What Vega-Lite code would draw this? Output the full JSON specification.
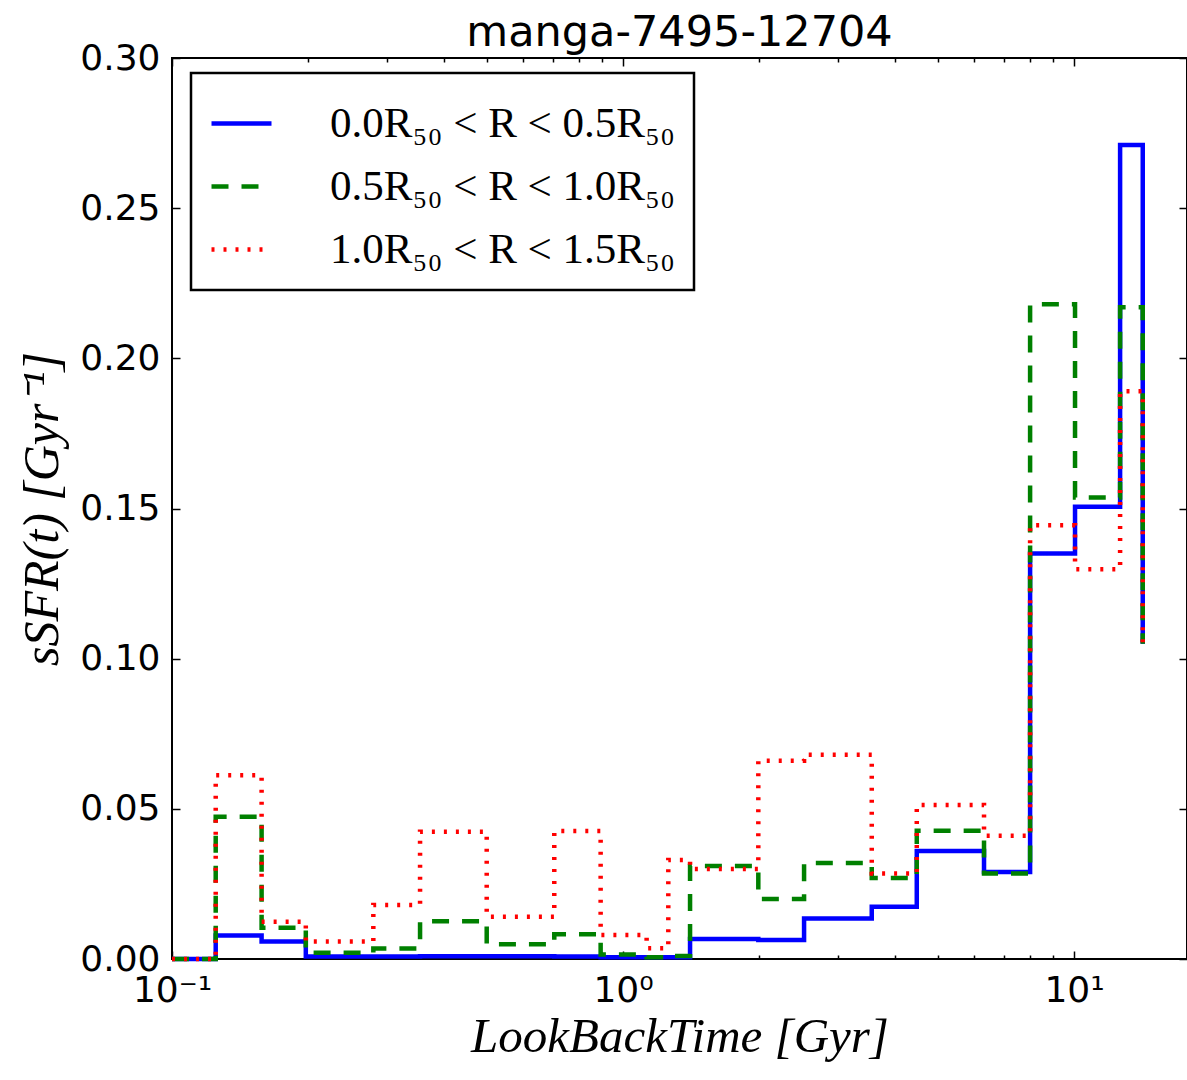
{
  "$schema": "https://vega.github.io/schema/vega-lite/v6.json",
  "width": 1015,
  "height": 901,
  "autosize": {"type": "none"},
  "padding": {"left": 172, "top": 58, "right": 0, "bottom": 121},
  "background": "white",
  "title": {"text": "manga-7495-12704", "font": "DejaVu Sans", "fontSize": 43, "fontWeight": "normal", "color": "black", "offset": -15, "anchor": "middle"},
  "config": {
    "view": {"stroke": "black", "strokeWidth": 2},
    "axis": {"grid": false, "domain": false, "tickColor": "black", "tickWidth": 1.5, "labelColor": "black", "labelOverlap": false, "labelFlush": false, "labelBound": false}
  },
  "datasets": {
    "sfh": [
      {"region": "0.0R₅₀ < R < 0.5R₅₀", "t": 0.1, "v": 0},
      {"region": "0.0R₅₀ < R < 0.5R₅₀", "t": 0.125, "v": 0.0078},
      {"region": "0.0R₅₀ < R < 0.5R₅₀", "t": 0.158, "v": 0.0058},
      {"region": "0.0R₅₀ < R < 0.5R₅₀", "t": 0.198, "v": 0.0008},
      {"region": "0.0R₅₀ < R < 0.5R₅₀", "t": 0.2795, "v": 0.0008},
      {"region": "0.0R₅₀ < R < 0.5R₅₀", "t": 0.3548, "v": 0.0009},
      {"region": "0.0R₅₀ < R < 0.5R₅₀", "t": 0.4986, "v": 0.0009},
      {"region": "0.0R₅₀ < R < 0.5R₅₀", "t": 0.704, "v": 0.0008},
      {"region": "0.0R₅₀ < R < 0.5R₅₀", "t": 0.892, "v": 0.0006},
      {"region": "0.0R₅₀ < R < 0.5R₅₀", "t": 1.128, "v": 0.0006},
      {"region": "0.0R₅₀ < R < 0.5R₅₀", "t": 1.26, "v": 0.0006},
      {"region": "0.0R₅₀ < R < 0.5R₅₀", "t": 1.408, "v": 0.0067},
      {"region": "0.0R₅₀ < R < 0.5R₅₀", "t": 1.995, "v": 0.0063},
      {"region": "0.0R₅₀ < R < 0.5R₅₀", "t": 2.52, "v": 0.0135},
      {"region": "0.0R₅₀ < R < 0.5R₅₀", "t": 3.56, "v": 0.0174},
      {"region": "0.0R₅₀ < R < 0.5R₅₀", "t": 4.48, "v": 0.036},
      {"region": "0.0R₅₀ < R < 0.5R₅₀", "t": 6.315, "v": 0.029},
      {"region": "0.0R₅₀ < R < 0.5R₅₀", "t": 7.99, "v": 0.135},
      {"region": "0.0R₅₀ < R < 0.5R₅₀", "t": 10.05, "v": 0.1506},
      {"region": "0.0R₅₀ < R < 0.5R₅₀", "t": 12.65, "v": 0.271},
      {"region": "0.0R₅₀ < R < 0.5R₅₀", "t": 14.2, "v": 0.105},
      {"region": "0.5R₅₀ < R < 1.0R₅₀", "t": 0.1, "v": 0},
      {"region": "0.5R₅₀ < R < 1.0R₅₀", "t": 0.125, "v": 0.0474},
      {"region": "0.5R₅₀ < R < 1.0R₅₀", "t": 0.158, "v": 0.0104},
      {"region": "0.5R₅₀ < R < 1.0R₅₀", "t": 0.198, "v": 0.0021},
      {"region": "0.5R₅₀ < R < 1.0R₅₀", "t": 0.2795, "v": 0.0035},
      {"region": "0.5R₅₀ < R < 1.0R₅₀", "t": 0.3548, "v": 0.0126},
      {"region": "0.5R₅₀ < R < 1.0R₅₀", "t": 0.4986, "v": 0.0049},
      {"region": "0.5R₅₀ < R < 1.0R₅₀", "t": 0.704, "v": 0.0082},
      {"region": "0.5R₅₀ < R < 1.0R₅₀", "t": 0.892, "v": 0.0015},
      {"region": "0.5R₅₀ < R < 1.0R₅₀", "t": 1.128, "v": 0.0006},
      {"region": "0.5R₅₀ < R < 1.0R₅₀", "t": 1.26, "v": 0.001},
      {"region": "0.5R₅₀ < R < 1.0R₅₀", "t": 1.408, "v": 0.031},
      {"region": "0.5R₅₀ < R < 1.0R₅₀", "t": 1.995, "v": 0.020},
      {"region": "0.5R₅₀ < R < 1.0R₅₀", "t": 2.52, "v": 0.032},
      {"region": "0.5R₅₀ < R < 1.0R₅₀", "t": 3.56, "v": 0.027},
      {"region": "0.5R₅₀ < R < 1.0R₅₀", "t": 4.48, "v": 0.0427},
      {"region": "0.5R₅₀ < R < 1.0R₅₀", "t": 6.315, "v": 0.0285},
      {"region": "0.5R₅₀ < R < 1.0R₅₀", "t": 7.99, "v": 0.218},
      {"region": "0.5R₅₀ < R < 1.0R₅₀", "t": 10.05, "v": 0.1537},
      {"region": "0.5R₅₀ < R < 1.0R₅₀", "t": 12.65, "v": 0.217},
      {"region": "0.5R₅₀ < R < 1.0R₅₀", "t": 14.2, "v": 0.105},
      {"region": "1.0R₅₀ < R < 1.5R₅₀", "t": 0.1, "v": 0},
      {"region": "1.0R₅₀ < R < 1.5R₅₀", "t": 0.125, "v": 0.0612},
      {"region": "1.0R₅₀ < R < 1.5R₅₀", "t": 0.158, "v": 0.0124},
      {"region": "1.0R₅₀ < R < 1.5R₅₀", "t": 0.198, "v": 0.0058},
      {"region": "1.0R₅₀ < R < 1.5R₅₀", "t": 0.2795, "v": 0.018},
      {"region": "1.0R₅₀ < R < 1.5R₅₀", "t": 0.3548, "v": 0.0424},
      {"region": "1.0R₅₀ < R < 1.5R₅₀", "t": 0.4986, "v": 0.0141},
      {"region": "1.0R₅₀ < R < 1.5R₅₀", "t": 0.704, "v": 0.0426},
      {"region": "1.0R₅₀ < R < 1.5R₅₀", "t": 0.892, "v": 0.008},
      {"region": "1.0R₅₀ < R < 1.5R₅₀", "t": 1.128, "v": 0.0036},
      {"region": "1.0R₅₀ < R < 1.5R₅₀", "t": 1.26, "v": 0.033},
      {"region": "1.0R₅₀ < R < 1.5R₅₀", "t": 1.408, "v": 0.030},
      {"region": "1.0R₅₀ < R < 1.5R₅₀", "t": 1.995, "v": 0.066},
      {"region": "1.0R₅₀ < R < 1.5R₅₀", "t": 2.52, "v": 0.068},
      {"region": "1.0R₅₀ < R < 1.5R₅₀", "t": 3.56, "v": 0.0285},
      {"region": "1.0R₅₀ < R < 1.5R₅₀", "t": 4.48, "v": 0.0513},
      {"region": "1.0R₅₀ < R < 1.5R₅₀", "t": 6.315, "v": 0.041},
      {"region": "1.0R₅₀ < R < 1.5R₅₀", "t": 7.99, "v": 0.1444},
      {"region": "1.0R₅₀ < R < 1.5R₅₀", "t": 10.05, "v": 0.1298},
      {"region": "1.0R₅₀ < R < 1.5R₅₀", "t": 12.65, "v": 0.189},
      {"region": "1.0R₅₀ < R < 1.5R₅₀", "t": 14.2, "v": 0.105}
    ]
  },
  "data": {"name": "sfh"},
  "layer": [
    {
      "mark": {"type": "line", "interpolate": "step-after", "opacity": 0},
      "encoding": {
        "x": {"field": "t", "type": "quantitative", "scale": {"type": "log", "domain": [0.1, 17.8], "nice": false},
          "axis": {"orient": "bottom", "values": [0.2, 0.3, 0.4, 0.5, 0.6, 0.7, 0.8, 0.9, 2, 3, 4, 5, 6, 7, 8, 9], "labels": false, "tickSize": -4, "title": null}},
        "y": {"field": "v", "type": "quantitative", "scale": {"domain": [0, 0.3], "nice": false},
          "axis": {"orient": "right", "values": [0, 0.05, 0.1, 0.15, 0.2, 0.25, 0.3], "labels": false, "tickSize": -8, "title": null}}
      }
    },
    {
      "mark": {"type": "line", "interpolate": "step-after", "opacity": 0},
      "encoding": {
        "x": {"field": "t", "type": "quantitative",
          "axis": {"orient": "top", "values": [0.2, 0.3, 0.4, 0.5, 0.6, 0.7, 0.8, 0.9, 2, 3, 4, 5, 6, 7, 8, 9], "labels": false, "tickSize": -4, "title": null}},
        "y": {"field": "v", "type": "quantitative", "axis": null}
      }
    },
    {
      "mark": {"type": "line", "interpolate": "step-after", "opacity": 0},
      "encoding": {
        "x": {"field": "t", "type": "quantitative",
          "axis": {"orient": "top", "values": [0.1, 1, 10], "labels": false, "tickSize": -8, "title": null}},
        "y": {"field": "v", "type": "quantitative", "axis": null}
      }
    },
    {
      "mark": {"type": "line", "interpolate": "step-after"},
      "encoding": {
        "x": {"field": "t", "type": "quantitative",
          "axis": {"orient": "bottom", "values": [0.1, 1, 10], "labelExpr": "datum.value < 0.5 ? '10⁻¹' : datum.value < 5 ? '10⁰' : '10¹'", "labelFont": "DejaVu Sans", "labelFontSize": 36, "labelPadding": 22, "tickSize": -8,
            "title": "LookBackTime [Gyr]", "titleFont": "Liberation Serif", "titleFontStyle": "italic", "titleFontWeight": "normal", "titleFontSize": 49, "titleColor": "black", "titlePadding": 4}},
        "y": {"field": "v", "type": "quantitative",
          "axis": {"orient": "left", "values": [0, 0.05, 0.1, 0.15, 0.2, 0.25, 0.3], "format": ".2f", "labelFont": "DejaVu Sans", "labelFontSize": 36, "labelPadding": 20, "tickSize": -8,
            "title": "sSFR(t) [Gyr⁻¹]", "titleFont": "Liberation Serif", "titleFontStyle": "italic", "titleFontWeight": "normal", "titleFontSize": 50, "titleColor": "black", "titlePadding": 12}},
        "color": {"field": "region", "type": "nominal",
          "scale": {"domain": ["0.0R₅₀ < R < 0.5R₅₀", "0.5R₅₀ < R < 1.0R₅₀", "1.0R₅₀ < R < 1.5R₅₀"], "range": ["#0000ff", "#008000", "#ff0000"]},
          "legend": {"orient": "none", "legendX": 19, "legendY": 15, "title": null, "strokeColor": "black", "fillColor": "white", "padding": 18, "symbolType": "stroke", "symbolSize": 3600, "symbolStrokeWidth": 4, "labelFont": "Liberation Serif", "labelFontSize": 43, "labelColor": "black", "labelOffset": 56, "rowPadding": 8, "labelLimit": 0,
            "encode": {"legend": {"update": {"strokeWidth": {"value": 2.5}}}}}},
        "strokeDash": {"field": "region", "type": "nominal",
          "scale": {"domain": ["0.0R₅₀ < R < 0.5R₅₀", "0.5R₅₀ < R < 1.0R₅₀", "1.0R₅₀ < R < 1.5R₅₀"], "range": [[1, 0], [17, 13], [3, 9]]}},
        "strokeWidth": {"field": "region", "type": "nominal",
          "scale": {"domain": ["0.0R₅₀ < R < 0.5R₅₀", "0.5R₅₀ < R < 1.0R₅₀", "1.0R₅₀ < R < 1.5R₅₀"], "range": [4.5, 4.5, 3.2]}}
      }
    }
  ],
  "resolve": {"axis": {"x": "independent", "y": "independent"}}
}
